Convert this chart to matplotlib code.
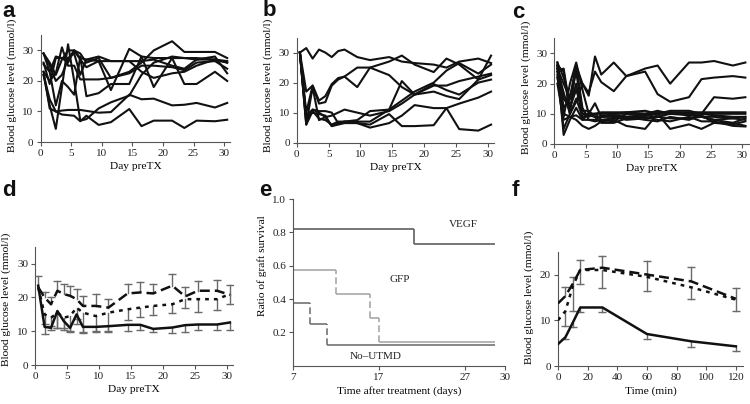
import matplotlib
matplotlib.use('Agg')
import matplotlib.pyplot as plt
from matplotlib import rcParams

# 日ごとの測定日 (a-d 共通)
days = [0.5, 1.5, 2.5, 3.5, 4.5, 5.5, 6.5, 7.5, 9.5, 11.5,
        14.5, 16.5, 18.5, 21.5, 23.5, 25.5, 28.5, 30.5]

# panel a : individual mice
a_series = [
    [22, 14, 10, 9, 8.8, 8.6, 6.8, 8.6, 5.6, 6.5, 10.8, 5.2, 7, 7, 4.6, 7, 6.8, 7.3],
    [23, 11, 10, 10.3, 10.5, 10.5, 10.5, 10.2, 9.6, 9.8, 15.5, 14, 14.2, 12, 12.2, 12.8, 11.3, 12.8],
    [22, 12, 4.3, 18, 32, 20, 7, 7.5, 11, 13, 15.2, 22, 26, 28, 27.5, 27, 27, 26],
    [29, 25, 20, 22, 27, 30, 29, 26, 27.5, 21, 23, 26, 30, 33, 29.5, 29.5, 29.5, 27.5],
    [26, 19, 27.5, 27.5, 27.5, 29, 22, 27, 26.5, 17, 30.5, 28, 27.5, 27.5, 27.5, 27.5, 27, 26.5],
    [29, 23, 28, 27.5, 26, 30, 27, 24.5, 26.5, 26.5, 26.5, 23, 21, 22.5, 23, 25, 27, 26],
    [25.5, 23, 12, 20, 18, 15.5, 28, 15, 16, 19, 19, 28, 18, 27.5, 19, 19, 23, 20],
    [23, 20, 22.5, 31, 25, 25, 20.5, 20.5, 20.5, 21, 22.5, 25, 25, 24.5, 23.5, 26, 26.5, 24],
    [29, 26, 22, 27, 30, 30, 27.5, 27, 28, 26.5, 26.5, 26.5, 27, 25, 24, 27, 28, 22.5],
]

# panel b
b_series = [
    [30, 31.5, 28, 31, 30, 28.5, 30.5, 31, 28.5, 27.5, 28.5, 27, 26.5, 26, 25, 27, 28, 26.5],
    [30, 17, 19, 14, 15.5, 19.5, 21.5, 22, 25, 25, 22.5, 18.5, 16, 17, 15.5, 14.5, 21, 22.5],
    [30, 10, 19, 13, 13.5, 19, 21, 22, 18.5, 25, 27, 29, 26, 23.5, 28, 26, 21, 29],
    [30, 6, 18.5, 7.5, 8.5, 5.5, 6, 6.5, 6.5, 6, 9.5, 5.5, 5.5, 5.8, 11.5, 4.5, 4, 6],
    [30, 7, 11, 10.5, 10.5, 10, 6.5, 7, 7, 7, 11, 20.5, 16, 19, 19, 20.5, 22, 23],
    [30, 8, 10, 9.5, 9, 5.5, 6.5, 7, 7.5, 10.5, 11, 14, 17, 20, 24, 26.5, 23, 26],
    [30, 9, 11, 10, 8.5, 9, 10, 11, 10, 9, 10.5, 13, 16, 19.5, 17.5, 16, 20, 21],
    [30, 6, 10.5, 8, 7.5, 6, 7, 7, 6.5, 5, 6.5, 9, 12.5, 11.5, 11.5, 13, 15, 17],
]

# panel c
c_series = [
    [27, 22, 15, 26, 20, 16, 29, 23, 27, 22.5, 25, 26, 20, 27, 27, 27.5, 26, 27],
    [25, 17, 10, 14, 20, 17, 24, 20.5, 17.5, 22.5, 24, 16.5, 14, 15.5, 21.5, 22, 22.5, 22],
    [26, 24, 10, 26, 10, 10, 13.5, 9, 9, 9, 9.5, 10, 10, 10, 10, 15.5, 15, 15.5],
    [26, 3, 8, 12, 8, 10, 10, 10.5, 10.5, 10.5, 10, 10.5, 10.5, 10.5, 10.5, 10.5, 10.5, 10.5],
    [22, 10, 9, 8, 6, 5, 6, 7.5, 8, 6, 5, 10, 5, 6.5, 5, 7, 7, 8.5],
    [25, 20, 15, 26, 12, 8, 7.5, 8, 7.5, 10, 10, 11, 10, 10, 9, 8, 7, 6],
    [24, 25, 12, 20, 8.5, 10, 10, 10, 10, 10, 10, 10, 11, 11, 10, 10, 10, 10],
    [20, 8, 9, 9.5, 8, 8, 8, 9.5, 9, 8, 8.5, 9, 8.5, 8.5, 9, 9, 8.5, 9],
    [27, 12, 15, 24, 10, 9, 10, 8, 8.5, 9, 8, 7.5, 9, 8, 9.5, 7, 6.5, 7.5],
    [23, 5, 10, 15, 9, 9.5, 9, 7, 7, 8.5, 9, 8, 7.5, 9, 7.5, 7.5, 6, 5.8],
    [26, 9, 20, 27, 18, 10, 9, 9, 9.5, 9, 9.5, 9, 10, 9.5, 9, 8, 8.5, 8],
    [24, 15, 12, 18, 11, 11, 9, 9, 10, 10.5, 11, 10, 10.5, 10, 10, 9.5, 9, 9],
]

# panel d : group means with one-sided SD
d_solid = [23.5, 11.3, 11.0, 16.0, 13.0, 11.0, 15.0, 11.3, 11.3, 11.5, 11.9, 11.9, 10.7, 11.1, 11.8, 12.0, 12.0, 12.6]
d_solid_err = [0, 2, 0.5, 5, 2, 1.2, 3, 1.5, 1.5, 1.7, 1.9, 1.6, 1.0, 1.7, 1.9, 1.6, 1.6, 2.1]
d_dashed = [23.0, 20.0, 18.0, 22.0, 21.0, 20.5, 19.5, 17.5, 17.5, 17.0, 21.2, 21.5, 21.2, 23.5, 20.3, 22.0, 22.0, 20.8]
d_dashed_err = [3.5, 1.5, 2.0, 3.0, 3.0, 3.0, 3.0, 2.8, 3.5, 2.5, 2.7, 3.2, 2.8, 3.5, 2.8, 3.0, 3.2, 2.8]
d_dotted = [23.0, 15.0, 14.0, 15.5, 14.0, 14.5, 17.0, 15.5, 14.5, 15.5, 16.5, 17.0, 17.5, 18.0, 19.5, 19.5, 19.5, 21.0]
d_dotted_err = [0, 3, 2.5, 4.5, 3.5, 4.5, 3.5, 6, 4.5, 5.5, 3.2, 2.7, 2.7, 2.5, 2.7, 3.8, 3.3, 3.0]

# panel e : graft survival
vegf_t = [7, 21, 30.5]
vegf_s = [9 / 11, 8 / 11]
gfp_t = [7, 12, 16, 17, 30.5]
gfp_s = [4 / 7, 3 / 7, 2 / 7, 1 / 7]
utmd_t = [7, 9, 11, 30.5]
utmd_s = [3 / 8, 2 / 8, 1 / 8]
e_xticks = [7, 17, 27, 31.6]
e_xticklabels = ['7', '17', '27', '30']

# panel f : IPGTT
f_time = [0, 5, 10, 15, 30, 60, 90, 120]
f_solid = [4.8, 6.3, 9.5, 12.8, 12.8, 7.0, 5.4, 4.3]
f_solid_err = [0, 0.4, 1.0, 0.9, 0.9, 1.1, 1.2, 1.0]
f_dashed = [13.7, 15.3, 18.0, 21.0, 21.5, 20.0, 18.5, 14.7]
f_dashed_err = [0, 1.9, 1.5, 2.1, 2.6, 3.0, 3.1, 2.3]
f_dotted = [10.0, 12.0, 17.5, 21.0, 21.0, 19.5, 17.2, 14.5]
f_dotted_err = [0, 3.3, 5.4, 3.0, 4.0, 3.2, 2.5, 2.4]

AXIS_COLOR = '#555555'
ERR_COLOR = '#6a6a6a'
LINE_COLOR = '#111111'
YLABEL = 'Blood glucose level (mmol/l)'
LABEL_SIZE = 8.2
TICK_SIZE = 8

rcParams['font.family'] = ['Liberation Serif', 'DejaVu Serif']
rcParams['font.size'] = TICK_SIZE
rcParams['text.color'] = '#222222'
rcParams['xtick.color'] = AXIS_COLOR
rcParams['ytick.color'] = AXIS_COLOR
rcParams['xtick.labelcolor'] = '#222222'
rcParams['ytick.labelcolor'] = '#222222'


def style_axes(ax):
    for s in ['top', 'right']:
        ax.spines[s].set_visible(False)
    for s in ['left', 'bottom']:
        ax.spines[s].set_color(AXIS_COLOR)
        ax.spines[s].set_linewidth(0.8)
    ax.tick_params(length=3, width=0.8, labelsize=TICK_SIZE, pad=2)


def one_side_err(ax, x, y, err, up):
    # Excel風の片側エラーバー (先端だけキャップ)
    for xi, yi, ei in zip(x, y, err):
        if ei == 0:
            continue
        end = yi + ei if up else yi - ei
        ax.plot([xi, xi], [yi, end], color=ERR_COLOR, lw=1.0, zorder=1)
        ax.plot([xi], [end], marker='_', ms=6, mew=1.0, color=ERR_COLOR, zorder=1)


def day_panel(ax, label_y):
    style_axes(ax)
    ax.set_xlim(0, 31)
    ax.set_ylim(0, 35)
    ax.set_xticks([0, 5, 10, 15, 20, 25, 30])
    ax.set_yticks([0, 10, 20, 30])
    ax.set_xlabel('Day preTX', fontsize=LABEL_SIZE, labelpad=3)
    ax.set_ylabel(YLABEL, fontsize=LABEL_SIZE, labelpad=4)
    ax.yaxis.label.set_y(label_y)


def km_curve(ax, t, s, color, vstyle):
    ax.hlines(s, t[:-1], t[1:], colors=color, lw=1.2)
    ax.vlines(t[1:-1], s[1:], s[:-1], colors=color, lw=1.2, linestyles=vstyle)


fig = plt.figure(figsize=(7.5, 4.04), dpi=100)

ax_a = fig.add_axes([0.054, 0.6485, 0.253, 0.2645])
ax_b = fig.add_axes([0.3956, 0.647, 0.2634, 0.260])
ax_c = fig.add_axes([0.739, 0.6436, 0.259, 0.2614])
ax_d = fig.add_axes([0.0467, 0.0965, 0.264, 0.2925])
ax_e = fig.add_axes([0.3907, 0.0948, 0.2823, 0.4126])
ax_f = fig.add_axes([0.744, 0.094, 0.247, 0.283])

for ax, series, ly in [(ax_a, a_series, 0.53), (ax_b, b_series, 0.55), (ax_c, c_series, 0.54)]:
    day_panel(ax, ly)
    for ys in series:
        ax.plot(days, ys, color=LINE_COLOR, lw=1.5)

# d
day_panel(ax_d, 0.56)
ax_d.plot(days, d_solid, color=LINE_COLOR, lw=1.8, zorder=3)
ax_d.plot(days, d_dashed, color=LINE_COLOR, lw=1.8, dashes=(4, 2), zorder=3)
ax_d.plot(days, d_dotted, color=LINE_COLOR, lw=1.8, dashes=(1.5, 2), zorder=3)
one_side_err(ax_d, days, d_solid, d_solid_err, up=False)
one_side_err(ax_d, days, d_dashed, d_dashed_err, up=True)
one_side_err(ax_d, days, d_dotted, d_dotted_err, up=False)

# e
style_axes(ax_e)
km_curve(ax_e, vegf_t, vegf_s, '#5f5f5f', 'solid')
km_curve(ax_e, gfp_t, gfp_s, '#a8a8a8', (0, (4, 2)))
km_curve(ax_e, utmd_t, utmd_s, '#737373', (0, (4, 2)))
ax_e.set_xlim(7, 31.6)
ax_e.set_ylim(0, 1.0)
ax_e.set_xticks(e_xticks)
ax_e.set_xticklabels(e_xticklabels)
ax_e.set_yticks([0.2, 0.4, 0.6, 0.8, 1.0])
ax_e.set_yticklabels(['0.2', '0.4', '0.6', '0.8', '1.0'])
ax_e.set_xlabel('Time after treatment (days)', fontsize=LABEL_SIZE, labelpad=3)
ax_e.set_ylabel('Ratio of graft survival', fontsize=LABEL_SIZE, labelpad=4)
ax_e.yaxis.label.set_y(0.6)
ax_e.text(26.8, 0.85, 'VEGF', ha='center', va='center', fontsize=TICK_SIZE)
ax_e.text(19.4, 0.52, 'GFP', ha='center', va='center', fontsize=TICK_SIZE)
ax_e.text(16.6, 0.058, 'No–UTMD', ha='center', va='center', fontsize=TICK_SIZE)

# f
style_axes(ax_f)
ax_f.plot(f_time, f_solid, color=LINE_COLOR, lw=1.8, zorder=3)
ax_f.plot(f_time, f_dashed, color=LINE_COLOR, lw=1.8, dashes=(4, 2), zorder=3)
ax_f.plot(f_time, f_dotted, color=LINE_COLOR, lw=1.8, dashes=(1.5, 2), zorder=3)
one_side_err(ax_f, f_time, f_solid, f_solid_err, up=False)
one_side_err(ax_f, f_time, f_dashed, f_dashed_err, up=True)
one_side_err(ax_f, f_time, f_dotted, f_dotted_err, up=False)
ax_f.set_xlim(0, 125)
ax_f.set_ylim(0, 25)
ax_f.set_xticks([0, 20, 40, 60, 80, 100, 120])
ax_f.set_yticks([0, 10, 20])
ax_f.set_xlabel('Time (min)', fontsize=LABEL_SIZE, labelpad=3)
ax_f.set_ylabel(YLABEL, fontsize=LABEL_SIZE, labelpad=4)
ax_f.yaxis.label.set_y(0.6)

# パネル記号
letters = [('a', 2, 17), ('b', 263, 16), ('c', 512, 18),
           ('d', 2, 196), ('e', 259, 196), ('f', 512, 196)]
for lab, px, py in letters:
    fig.text(px / 750, 1 - py / 404, lab, fontsize=16, fontweight='bold',
             family='Liberation Sans', va='baseline', ha='left', color='#111111')

fig.savefig('out.png', dpi=100)
